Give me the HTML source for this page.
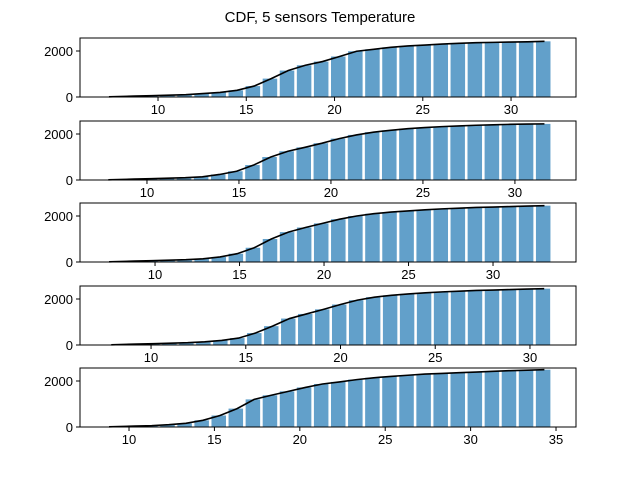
<!DOCTYPE html>
<html><head><meta charset="utf-8"><style>
body{margin:0;background:#fff}
svg{display:block;font-family:"Liberation Sans","DejaVu Sans",sans-serif}
</style></head><body>
<svg id="fig" width="640" height="480">
<text x="320" y="22" font-size="15" text-anchor="middle">CDF, 5 sensors Temperature</text>
</svg>
<script>
// per-subplot data: bin range (temperature) and cumulative counts
const binStarts = [7.22, 7.9, 7.28, 7.9, 8.83];
const binEnds = [32.38, 32.07, 33.55, 31.2, 34.82];
const xMins = [5.58, 6.36, 5.56, 6.25, 7.13];
const xMaxs = [33.68, 33.32, 34.91, 32.43, 36.17];
const xTicks = [[10,15,20,25,30],[10,15,20,25,30],[10,15,20,25,30],[10,15,20,25,30],[10,15,20,25,30,35]];
const yTicks = [0, 2000];
const counts1 = [10,40,60,80,100,150,200,290,475,800,1150,1380,1540,1760,1990,2075,2160,2220,2260,2300,2335,2360,2375,2390,2400,2420];
const counts2 = [10,40,60,80,100,140,240,380,650,1000,1250,1420,1600,1800,1960,2080,2160,2230,2280,2320,2350,2380,2400,2420,2430,2440];
const counts3 = [10,40,60,80,100,140,220,360,620,1000,1300,1500,1680,1860,2000,2100,2170,2220,2270,2310,2340,2370,2390,2410,2430,2450];
const counts4 = [10,40,60,80,100,140,200,300,520,820,1150,1350,1550,1760,1950,2080,2160,2220,2270,2310,2340,2370,2390,2410,2430,2450];
const counts5 = [10,40,60,100,160,290,500,800,1200,1380,1550,1720,1870,1960,2060,2140,2200,2250,2300,2330,2360,2390,2420,2450,2470,2490];
const allCounts = [counts1, counts2, counts3, counts4, counts5];
const yMax = 2565;
const NS = "http://www.w3.org/2000/svg";
const svg = document.getElementById('fig');
const axL = 80, axR = 576, tops = [38,121,203,286,368], axH = 59;
function mk(tag, attrs, parent){const e=document.createElementNS(NS,tag);for(const k in attrs)e.setAttribute(k,attrs[k]);(parent||svg).appendChild(e);return e;}
for(let s=0;s<5;s++){
  const top=tops[s], bot=top+axH;
  const xs=v=>axL+(v-xMins[s])/(xMaxs[s]-xMins[s])*(axR-axL);
  const ys=v=>bot-v/yMax*axH;
  const g=mk('g',{});
  
  
  const c=allCounts[s], n=c.length, w=(binEnds[s]-binStarts[s])/n;
  const pts=[];
  for(let i=0;i<n;i++){
    const x0=binStarts[s]+i*w;
    const r=mk('rect',{x:xs(x0),y:ys(c[i]),width:(xs(x0+w)-xs(x0))*0.85,height:bot-ys(c[i]),fill:'#1f77b4','fill-opacity':0.7},g);
    
    
    const px = i===0 ? xs(x0) : xs(x0+w*0.5);
    pts.push(px+','+ys(c[i]));
  }
  const pl=mk('polyline',{points:pts.join(' '),fill:'none',stroke:'#000','stroke-width':1.6},g);
  
  
  const fr=mk('rect',{x:axL,y:top,width:axR-axL,height:axH,fill:'none',stroke:'#000','stroke-width':1},g);
  
  
  for(const t of xTicks[s]){
    const x=xs(t);
    mk('line',{x1:x,x2:x,y1:bot,y2:bot+4,stroke:'#000'},g);
    const tx=mk('text',{x:x,y:bot+17,'font-size':13,'text-anchor':'middle'},g);
    tx.textContent=t;
    
    
  }
  for(const t of yTicks){
    const y=ys(t);
    mk('line',{x1:axL-4,x2:axL,y1:y,y2:y,stroke:'#000'},g);
    const ty=mk('text',{x:axL-7,y:y+5,'font-size':13,'text-anchor':'end'},g);
    ty.textContent=t;
    
    
  }
}
</script>
</body></html>
